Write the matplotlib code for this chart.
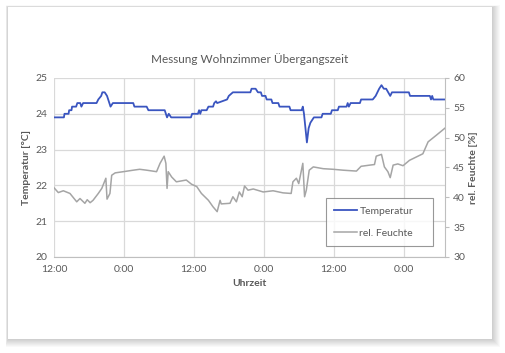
import matplotlib
matplotlib.use("Agg")
import matplotlib.pyplot as plt
from matplotlib.patches import Rectangle
from matplotlib.lines import Line2D

plt.rcParams["font.family"] = ["Lato", "DejaVu Sans"]

# hours since the first 12:00
temp_hours = [0, 1.7, 1.8, 2.5, 2.6, 3.0, 3.1, 3.8, 4.0, 4.5, 4.7, 5.0, 7.3, 7.6, 8.1, 8.3,
              8.7, 9.1, 9.7, 10.1, 13.6, 13.8, 15.9, 16.2, 19.0, 19.4, 19.7, 20.1, 23.5,
              23.7, 24.7, 24.9, 25.1, 25.3, 26.2, 26.5, 27.3, 27.5, 27.8, 28.0, 29.7, 30.0,
              30.7, 33.7, 33.9, 34.6, 35.0, 35.5, 35.7, 36.3, 36.5, 37.3, 37.5, 38.5, 38.7,
              40.4, 40.6, 42.5, 42.7, 42.9,
              43.4, 43.7, 44.0, 44.6, 45.9, 46.1, 47.5, 47.7, 48.7, 48.9, 50.2, 50.4, 50.6,
              50.9, 52.5, 52.7, 54.7, 55.2, 55.8, 56.2, 56.6, 57.0, 57.7, 58.0, 60.9, 61.1,
              64.5, 64.7, 64.9, 65.1, 67.1]
temperatur = [23.9, 23.9, 24.0, 24.0, 24.1, 24.1, 24.2, 24.2, 24.3, 24.3, 24.2, 24.3, 24.3,
              24.4, 24.5, 24.6, 24.6, 24.5, 24.2, 24.3, 24.3, 24.2, 24.2, 24.1, 24.1, 23.9,
              24.0, 23.9, 23.9, 24.0, 24.0, 24.1, 24.0, 24.1, 24.1, 24.2, 24.2, 24.3, 24.35,
              24.3, 24.4, 24.5, 24.6, 24.6, 24.7, 24.7, 24.6, 24.6, 24.5, 24.5, 24.4, 24.4,
              24.3, 24.3, 24.2, 24.2, 24.1,
              24.1, 24.2, 24.0, 23.2, 23.6, 23.75, 23.9, 23.9, 24.0, 24.0, 24.1, 24.1, 24.2,
              24.2, 24.3, 24.2, 24.3, 24.3, 24.4, 24.4, 24.5, 24.7, 24.8, 24.7, 24.7, 24.5,
              24.6, 24.6, 24.5, 24.5, 24.4, 24.5, 24.4, 24.4]

hum_hours = [0, 0.74, 1.6, 2.74, 3.9, 4.46, 5.3, 5.7, 6.2, 6.7, 7.6, 8.2, 8.9, 9.1, 9.6, 9.9,
             10.5, 11.9, 13.6, 14.7, 15.9, 17.6, 18.2, 18.9, 19.2, 19.4, 19.6, 20.2, 21.0,
             22.7, 23.6, 24.5, 25.3, 26.5, 27.3, 28.0, 28.5, 28.7, 30.2, 30.7, 31.3, 31.8,
             32.3, 32.7, 33.3, 34.2, 35.9, 37.6, 39.3, 40.7, 41.0, 41.6, 42.0, 42.7, 43.0,
             43.3, 43.8, 44.5, 46.2, 47.9, 49.6, 51.9, 52.7, 54.2, 55.0, 55.3, 56.2, 56.7,
             57.3, 57.7, 58.2, 59.0, 59.9, 61.0, 63.3, 64.2, 65.6, 67.1]
feuchte = [41.6, 40.8, 41.1, 40.65, 39.25, 39.8, 39.0, 39.6, 39.1, 39.5, 40.65, 41.5, 43.2,
           39.7, 40.65, 43.7, 44.1, 44.3, 44.55, 44.7, 44.55, 44.3, 45.7, 46.9, 45.7, 41.5,
           44.3, 43.4, 42.6, 42.9, 42.2, 41.8, 40.65, 39.5, 38.4, 37.6, 39.5, 38.9, 39.0,
           40.1, 39.25, 40.9, 40.1, 41.9, 41.2, 41.4, 40.9, 41.1, 40.75, 40.65, 42.6, 43.2,
           42.3, 45.7, 40.1, 41.2, 44.55, 45.1, 44.8, 44.7, 44.55, 44.4, 45.2, 45.4, 45.5,
           46.9, 47.2, 45.1, 44.3, 43.3, 45.4, 45.6, 45.3, 46.2, 47.3, 49.3, 50.4, 51.6]

tick_hours = [0, 12, 24, 36, 48, 60]
tick_labels = ["12:00", "0:00", "12:00", "0:00", "12:00", "0:00"]

W, H = 506, 353
fig = plt.figure(figsize=(W / 100, H / 100), dpi=100)
fig.patch.set_facecolor("white")

# card with a soft drop shadow (right/bottom)
for k in range(8, 0, -1):
    fig.patches.append(Rectangle(((8 - k * 0.3) / W, (H - 339 - k) / H),
                                 (484 + k * 1.3) / W, (332 + k * 1.2) / H,
                                 transform=fig.transFigure, facecolor="black",
                                 alpha=0.022, edgecolor="none", zorder=0))
fig.patches.append(Rectangle((8 / W, (H - 339) / H), 484 / W, 332 / H,
                             transform=fig.transFigure, facecolor="white",
                             edgecolor="none", zorder=1))

ax = fig.add_axes([54 / W, (H - 257) / H, (445 - 54) / W, (257 - 78) / H])
ax.set_zorder(2)
ax.patch.set_alpha(0)
ax2 = ax.twinx()

txt = "#595959"
grid = "#d9d9d9"

ax.plot(temp_hours, temperatur, color="#3a55c0", lw=1.3, zorder=3)
ax2.plot(hum_hours, feuchte, color="#a5a5a5", lw=1.1, zorder=3)

ax.set_xlim(0, 67.1)
ax.set_ylim(20, 25)
ax2.set_ylim(30, 60)
ax.set_xticks(tick_hours)
ax.set_xticklabels(tick_labels)
ax.set_yticks([20, 21, 22, 23, 24, 25])
ax2.set_yticks([30, 35, 40, 45, 50, 55, 60])

ax.grid(True, color=grid, lw=0.9)
ax.set_axisbelow(True)
for s in ["top", "left", "right"]:
    ax.spines[s].set_visible(False)
    ax2.spines[s].set_visible(False)
ax2.spines["bottom"].set_visible(False)
ax.spines["bottom"].set_color("#bfbfbf")
ax2.spines["right"].set_visible(True)
ax2.spines["right"].set_color("#bfbfbf")

ax.tick_params(axis="both", length=0, labelsize=7.5, colors=txt, pad=5)
ax.tick_params(axis="x", pad=6)
ax2.tick_params(axis="y", length=3, color="#bfbfbf", labelsize=7.5, labelcolor=txt, pad=3)

ax.set_ylabel("Temperatur [°C]", fontsize=7.5, color=txt, fontweight="bold", labelpad=3)
ax2.set_ylabel("rel. Feuchte [%]", fontsize=7.5, color=txt, fontweight="bold",
               rotation=90, labelpad=3)
ax.set_xlabel("Uhrzeit", fontsize=7.5, color=txt, fontweight="bold", labelpad=3)
ax.set_title("Messung Wohnzimmer Übergangszeit", fontsize=8.5, color=txt, pad=11)

handles = [Line2D([], [], color="#3a55c0", lw=1.3), Line2D([], [], color="#a5a5a5", lw=1.1)]
leg = ax.legend(handles, ["Temperatur", "rel. Feuchte"], loc="lower left",
                bbox_to_anchor=((326 - 54) / 391, (257 - 246) / 179, (433 - 326) / 391, (246 - 202) / 179),
                mode="expand", fontsize=7.5, labelcolor=txt, frameon=True, fancybox=False,
                handlelength=2.2, handletextpad=0.2, labelspacing=1.2, borderpad=0.8,
                borderaxespad=0)
leg.get_frame().set_edgecolor("#7f7f7f")
leg.get_frame().set_linewidth(0.8)
leg.set_zorder(5)
for t in leg.get_texts():
    t.set_ha("left")

fig.savefig("out.png", dpi=100)
